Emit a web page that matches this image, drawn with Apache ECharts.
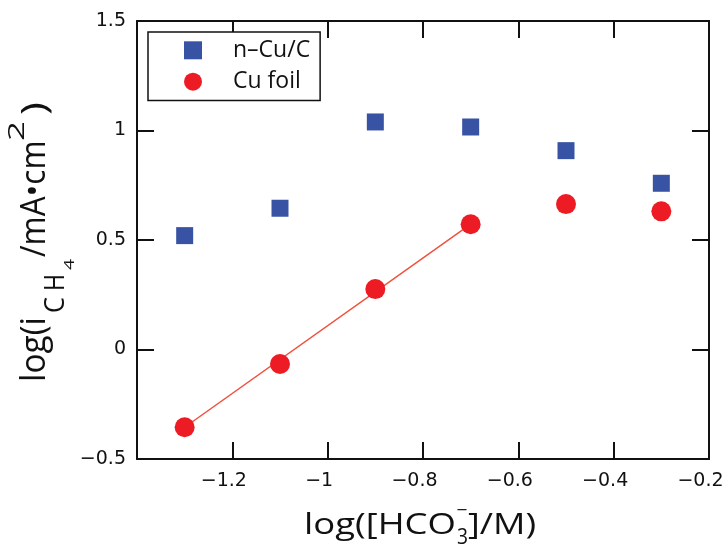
<!DOCTYPE html>
<html><head><meta charset="utf-8">
<script src="https://cdn.jsdelivr.net/npm/echarts@6/dist/echarts.min.js"></script>
<style>html,body{margin:0;padding:0;background:#fff}#chart{width:727px;height:554px}</style>
</head><body><div id="chart"></div>
<script>
// ---- data ----
const xValues = [-1.3, -1.1, -0.9, -0.7, -0.5, -0.3];
const nCuC   = [0.520, 0.645, 1.039, 1.016, 0.908, 0.759];
const cuFoil = [-0.355, -0.066, 0.276, 0.572, 0.664, 0.631];
const fitX = [-1.3, -0.7];
const fitY = [-0.355, 0.572];
const xTickLabels = ['', '−1.2', '−1', '−0.8', '−0.6', '−0.4', '−0.2'];
const yTickLabels = ['−0.5', '0', '0.5', '1', '1.5'];
const seriesNames = ['n–Cu/C', 'Cu foil'];

const FONT = 'Open Sans';
const TICKFONT = 'DejaVu Sans';
const ctx = document.createElement('canvas').getContext('2d');
function tw(text, size) { ctx.font = size + 'px "' + FONT + '"'; return ctx.measureText(text).width; }
const MID = 0.33;
// horizontal token: ink from x0 to x1, baseline at b
function hTok(text, x0, x1, b, size) {
  return { type: 'text', x: x0, y: b, scaleX: (x1 - x0) / tw(text, size), silent: true,
    style: { text: text, x: 0, y: -MID * size, fontSize: size, fontFamily: FONT, fill: '#111', align: 'left', verticalAlign: 'middle' } };
}
// vertical token (reads bottom to top): from screen y0 (bottom) to y1 (top), baseline at screen x bx
function vTok(text, y0, y1, bx, size) {
  return { type: 'text', x: bx, y: y0, rotation: Math.PI / 2, scaleX: (y0 - y1) / tw(text, size), silent: true,
    style: { text: text, x: 0, y: -MID * size, fontSize: size, fontFamily: FONT, fill: '#111', align: 'left', verticalAlign: 'middle' } };
}

const chart = echarts.init(document.getElementById('chart'), null, { renderer: 'canvas' });
const axisLineStyle = { color: '#111', width: 2 };
const tickCommon = { show: true, inside: true, length: 17, lineStyle: { color: '#111', width: 2 } };
const xRange = { min: -1.4, max: -0.2, interval: 0.2 };
const yRange = { min: -0.5, max: 1.5, interval: 0.5 };

chart.setOption({
  animation: false,
  backgroundColor: '#fff',
  grid: { left: 137, right: 18, top: 21, bottom: 95, containLabel: false, outerBoundsMode: 'none' },
  legend: {
    orient: 'vertical', left: 148, top: 32,
    padding: [6.8, 10, 7.2, 36], itemGap: 8.4, itemWidth: 18, itemHeight: 18,
    borderColor: '#111', borderWidth: 1.5, backgroundColor: '#fff',
    textStyle: { fontFamily: FONT, fontSize: 23, color: '#111', padding: [0, 0, 0, 26] },
    data: [{ name: seriesNames[0], icon: 'rect' }, { name: seriesNames[1], icon: 'circle' }]
  },
  xAxis: [
    Object.assign({ type: 'value', position: 'bottom', splitLine: { show: false },
      axisLine: { show: true, onZero: false, lineStyle: axisLineStyle },
      axisTick: tickCommon,
      axisLabel: { show: true, margin: 13, fontFamily: TICKFONT, fontSize: 19, color: '#111', showMinLabel: true, showMaxLabel: true,
        padding: [0, 17, 0, 0], formatter: (v, i) => xTickLabels[i] } }, xRange),
    Object.assign({ type: 'value', position: 'top', splitLine: { show: false },
      axisLine: { show: true, onZero: false, lineStyle: axisLineStyle },
      axisTick: tickCommon, axisLabel: { show: false } }, xRange)
  ],
  yAxis: [
    Object.assign({ type: 'value', position: 'left', splitLine: { show: false },
      axisLine: { show: true, onZero: false, lineStyle: axisLineStyle },
      axisTick: tickCommon,
      axisLabel: { show: true, margin: 11, fontFamily: TICKFONT, fontSize: 19, color: '#111', showMinLabel: true, showMaxLabel: true,
        formatter: (v, i) => yTickLabels[i] } }, yRange),
    Object.assign({ type: 'value', position: 'right', splitLine: { show: false },
      axisLine: { show: true, onZero: false, lineStyle: axisLineStyle },
      axisTick: tickCommon, axisLabel: { show: false } }, yRange)
  ],
  series: [
    { name: 'fit', type: 'line', data: fitX.map((x, i) => [x, fitY[i]]), showSymbol: false, symbol: 'none',
      lineStyle: { color: '#f0503c', width: 1.5 }, z: 1, silent: true },
    { name: seriesNames[0], type: 'scatter', symbol: 'rect', symbolSize: 17,
      itemStyle: { color: '#3953a4', opacity: 1 }, data: xValues.map((x, i) => [x, nCuC[i]]), z: 3 },
    { name: seriesNames[1], type: 'scatter', symbol: 'circle', symbolSize: 20,
      itemStyle: { color: '#ed1c24', opacity: 1 }, data: xValues.map((x, i) => [x, cuFoil[i]]), z: 3 }
  ],
  graphic: [
    // x-axis title: log([HCO3−]/M)
    hTok('log([HCO', 304, 456, 535, 29),
    hTok('−', 456.5, 467.5, 517, 18),
    hTok('3', 457, 468, 545, 22),
    hTok(']/M)', 468, 536, 535, 29),
    // y-axis title: log(i CH4 /mA•cm2)
    vTok('log(i', 382, 317, 47, 35),
    vTok('C', 313, 297, 65, 27),
    vTok('H', 291, 274, 65, 27),
    vTok('4', 270, 259, 75, 14),
    vTok('/mA•cm', 257, 140.5, 47, 35),
    vTok('2', 141, 121, 25, 21),
    vTok(')', 115, 102, 48, 35)
  ]
});
</script></body></html>
